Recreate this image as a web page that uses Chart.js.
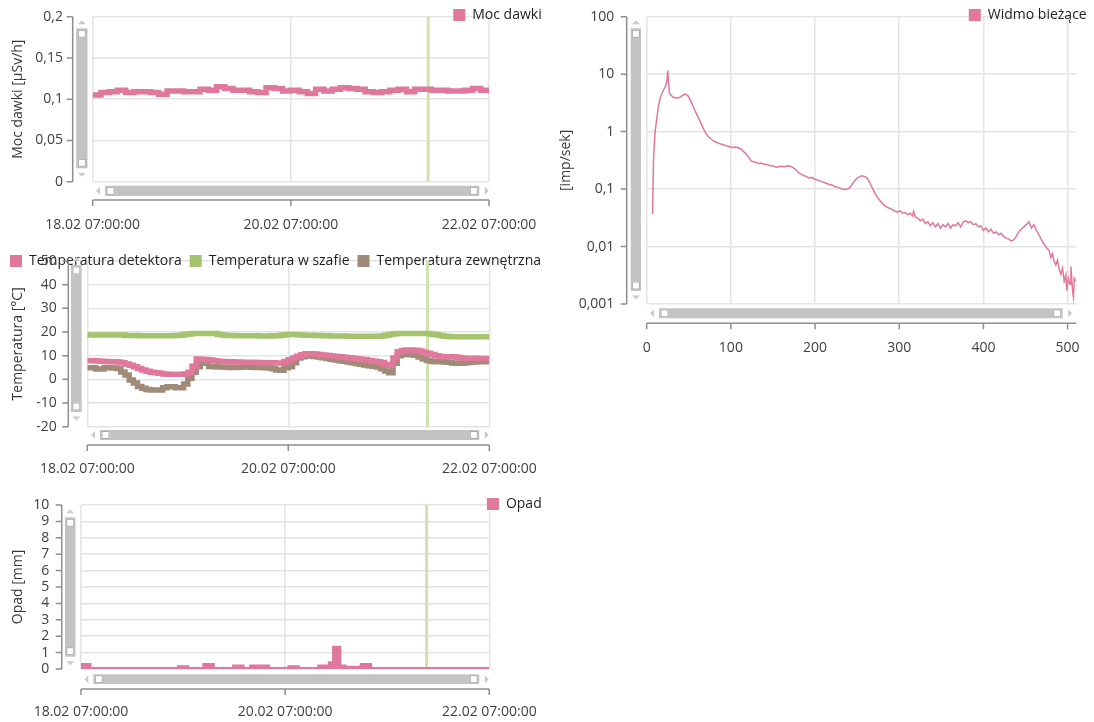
<!DOCTYPE html>
<html lang="pl">
<head>
<meta charset="utf-8">
<title>Monitoring stacji</title>
<script src="https://cdn.jsdelivr.net/npm/chart.js@4.4.1/dist/chart.umd.min.js"></script>
<style>
  html, body { margin: 0; padding: 0; background: #ffffff; }
  #wrap { position: relative; width: 1094px; height: 722px; overflow: hidden; background: #ffffff; }
  #wrap canvas { position: absolute; left: 0; top: 0; }
</style>
</head>
<body>
<div id="wrap">
  <canvas id="cMoc" width="1094" height="722"></canvas>
  <canvas id="cTemp" width="1094" height="722"></canvas>
  <canvas id="cOpad" width="1094" height="722"></canvas>
  <canvas id="cWidmo" width="1094" height="722"></canvas>
</div>
<script>
// ---- time axis (hours since 18.02 07:00) ----
const osCzasuTicks = [0, 48, 96];
const osCzasuEtykiety = ['18.02 07:00:00', '20.02 07:00:00', '22.02 07:00:00'];
const znacznikGodzina = 81.25;

const godziny2h = [0, 2, 4, 6, 8, 10, 12, 14, 16, 18, 20, 22, 24, 26, 28, 30, 32, 34, 36, 38,
  40, 42, 44, 46, 48, 50, 52, 54, 56, 58, 60, 62, 64, 66, 68, 70, 72, 74, 76, 78,
  80, 82, 84, 86, 88, 90, 92, 94, 96];
const godziny1h = [0, 1, 2, 3, 4, 5, 6, 7, 8, 9, 10, 11, 12, 13, 14, 15, 16, 17, 18, 19,
  20, 21, 22, 23, 24, 25, 26, 27, 28, 29, 30, 31, 32, 33, 34, 35, 36, 37, 38, 39,
  40, 41, 42, 43, 44, 45, 46, 47, 48, 49, 50, 51, 52, 53, 54, 55, 56, 57, 58, 59,
  60, 61, 62, 63, 64, 65, 66, 67, 68, 69, 70, 71, 72, 73, 74, 75, 76, 77, 78, 79,
  80, 81, 82, 83, 84, 85, 86, 87, 88, 89, 90, 91, 92, 93, 94, 95, 96];

// ---- dose rate [µSv/h] ----
const mocWartosci = [0.105, 0.108, 0.109, 0.111, 0.108, 0.109, 0.109, 0.108, 0.106, 0.110,
  0.110, 0.109, 0.109, 0.112, 0.111, 0.115, 0.113, 0.111, 0.111, 0.109,
  0.108, 0.114, 0.113, 0.110, 0.111, 0.109, 0.107, 0.112, 0.110, 0.112,
  0.114, 0.113, 0.112, 0.109, 0.108, 0.109, 0.111, 0.112, 0.109, 0.112,
  0.112, 0.111, 0.111, 0.110, 0.110, 0.111, 0.113, 0.111, 0.111];
const mocTicks = [0, 0.05, 0.1, 0.15, 0.2];
const mocEtykiety = ['0', '0,05', '0,1', '0,15', '0,2'];

// ---- temperatures [°C], hourly ----
const tempDetektora = [7.9, 7.9, 7.8, 7.6, 7.5, 7.4, 7.4, 7.3, 7.0, 6.5,
  6.0, 5.3, 4.6, 4.0, 3.4, 3.0, 2.8, 2.6, 2.3, 2.2,
  2.2, 2.2, 2.2, 2.3, 3.0, 5.5, 8.6, 8.5, 8.4, 8.2,
  7.9, 7.6, 7.5, 7.4, 7.4, 7.3, 7.3, 7.2, 7.2, 7.2,
  7.1, 7.1, 7.0, 7.0, 7.0, 6.9, 6.9, 7.5, 8.3, 9.0,
  9.8, 10.4, 10.8, 10.8, 10.7, 10.5, 10.3, 10.1, 9.9, 9.7,
  9.5, 9.3, 9.1, 8.9, 8.7, 8.5, 8.3, 8.0, 7.7, 7.4,
  7.1, 6.3, 6.0, 9.0, 11.7, 12.2, 12.4, 12.4, 12.3, 12.0,
  11.5, 11.0, 10.5, 10.0, 9.7, 9.6, 9.6, 9.5, 9.3, 9.0,
  8.9, 8.9, 8.9, 8.8, 8.8, 8.8, 8.8];
const tempSzafy = [18.7, 18.7, 18.7, 18.7, 18.7, 18.7, 18.7, 18.7, 18.7, 18.5,
  18.5, 18.5, 18.4, 18.4, 18.4, 18.4, 18.4, 18.4, 18.4, 18.4,
  18.4, 18.5, 18.6, 18.9, 19.2, 19.4, 19.4, 19.4, 19.4, 19.4,
  19.4, 19.0, 18.7, 18.5, 18.5, 18.4, 18.4, 18.4, 18.4, 18.4,
  18.4, 18.3, 18.3, 18.3, 18.4, 18.4, 18.6, 18.8, 19.0, 18.9,
  18.8, 18.7, 18.6, 18.6, 18.5, 18.5, 18.4, 18.4, 18.3, 18.3,
  18.3, 18.3, 18.2, 18.2, 18.2, 18.2, 18.2, 18.2, 18.2, 18.2,
  18.3, 18.6, 19.0, 19.3, 19.4, 19.4, 19.4, 19.4, 19.4, 19.4,
  19.4, 19.4, 19.1, 18.8, 18.5, 18.2, 18.1, 18.0, 18.0, 18.0,
  18.0, 18.0, 18.0, 18.0, 18.0, 18.0, 18.1];
const tempZewnetrzna = [4.9, 4.9, 4.4, 4.4, 4.9, 4.9, 4.8, 4.6, 3.1, 1.8,
  -0.3, -1.5, -3.0, -3.8, -4.3, -4.5, -4.5, -4.5, -3.5, -3.1,
  -3.1, -3.5, -3.5, -2.0, 0.5, 3.0, 5.3, 7.4, 6.8, 5.4,
  5.3, 5.2, 5.2, 5.1, 5.0, 5.0, 5.1, 5.2, 5.2, 5.1,
  5.0, 5.0, 4.9, 4.8, 4.5, 4.0, 3.9, 4.9, 5.3, 7.0,
  9.0, 9.6, 9.9, 9.9, 9.7, 9.4, 9.1, 8.8, 8.5, 8.2,
  7.9, 7.6, 7.3, 7.0, 6.7, 6.4, 6.1, 5.8, 5.5, 5.2,
  4.5, 3.5, 2.8, 6.8, 10.0, 10.5, 10.5, 10.4, 10.2, 9.4,
  8.6, 8.0, 7.5, 7.4, 7.4, 7.3, 7.2, 6.9, 6.8, 6.8,
  7.0, 7.2, 7.3, 7.4, 7.4, 7.4, 7.4];
const tempTicks = [-20, -10, 0, 10, 20, 30, 40, 50];
const tempEtykiety = ['-20', '-10', '0', '10', '20', '30', '40', '50'];

// ---- precipitation [mm] ----
const opadGodziny = [0, 2, 23, 25, 29, 31, 36, 38, 40, 44, 49, 51, 56, 58.5, 59.5, 60.75, 62, 66, 68, 96];
const opadWartosci = [0.25, 0, 0.1, 0, 0.25, 0, 0.15, 0, 0.15, 0, 0.1, 0, 0.15, 0.35, 1.3, 0.15, 0.08, 0.25, 0, 0];
const opadTicks = [0, 1, 2, 3, 4, 5, 6, 7, 8, 9, 10];
const opadEtykiety = ['0', '1', '2', '3', '4', '5', '6', '7', '8', '9', '10'];

// ---- current spectrum [imp/sek] per channel ----
const widmoKanaly = [
  7, 8, 9, 10, 12, 14, 16, 18, 20, 22,
  24, 25, 26, 27, 29, 31, 34, 37, 40, 43,
  46, 49, 52, 55, 58, 61, 64, 67, 70, 73,
  76, 79, 82, 85, 88, 91, 94, 97, 100, 103,
  106, 109, 112, 115, 118, 121, 124, 127, 130, 133,
  136, 139, 142, 145, 148, 151, 154, 157, 160, 163,
  166, 169, 172, 175, 178, 181, 184, 187, 190, 193,
  196, 199, 202, 205, 208, 211, 214, 217, 220, 223,
  226, 229, 232, 235, 238, 241, 244, 247, 250, 253,
  256, 259, 262, 265, 268, 271, 274, 277, 280, 283,
  286, 289, 292, 295, 298, 301, 304, 307, 310, 313,
  316, 317, 319, 322, 325, 328, 331, 334, 337, 340,
  343, 346, 349, 352, 355, 358, 361, 364, 367, 370,
  373, 376, 379, 382, 385, 388, 391, 394, 397, 400,
  403, 406, 409, 412, 415, 418, 421, 424, 427, 430,
  433, 436, 439, 442, 445, 448, 451, 454, 457, 460,
  463, 466, 469, 472, 475, 478, 480, 482, 484, 486,
  488, 490, 492, 494, 496, 498, 499, 501, 503, 504,
  506, 507, 508, 510];
const widmoWartosci = [
  0.037, 0.3, 0.6, 1.0, 1.7, 2.8, 3.8, 4.6, 5.3, 6.0,
  7.5, 11.5, 7.0, 4.6, 4.3, 4.0, 3.9, 3.8, 4.0, 4.3,
  4.5, 4.2, 3.5, 2.8, 2.2, 1.8, 1.45, 1.15, 0.95, 0.82,
  0.75, 0.69, 0.66, 0.63, 0.61, 0.59, 0.57, 0.55, 0.54, 0.53,
  0.54, 0.52, 0.50, 0.45, 0.41, 0.36, 0.31, 0.30, 0.29, 0.28,
  0.285, 0.27, 0.27, 0.26, 0.255, 0.25, 0.24, 0.245, 0.25, 0.245,
  0.25, 0.255, 0.245, 0.23, 0.21, 0.19, 0.18, 0.17, 0.165, 0.155,
  0.16, 0.15, 0.145, 0.14, 0.135, 0.13, 0.125, 0.12, 0.118, 0.112,
  0.108, 0.105, 0.1, 0.098, 0.1, 0.105, 0.12, 0.14, 0.155, 0.165,
  0.17, 0.165, 0.155, 0.13, 0.105, 0.085, 0.072, 0.063, 0.056, 0.051,
  0.048, 0.046, 0.044, 0.041, 0.04, 0.042, 0.038, 0.039, 0.036, 0.038,
  0.034, 0.041, 0.033, 0.031, 0.028, 0.03, 0.025, 0.027, 0.023, 0.026,
  0.022, 0.025, 0.021, 0.024, 0.022, 0.025, 0.021, 0.024, 0.023, 0.026,
  0.022, 0.027, 0.028, 0.026, 0.027, 0.024, 0.025, 0.022, 0.023, 0.019,
  0.021, 0.018, 0.02, 0.017, 0.018, 0.016, 0.017, 0.015, 0.014, 0.0135,
  0.0125, 0.013, 0.015, 0.018, 0.02, 0.022, 0.024, 0.027, 0.021, 0.024,
  0.019, 0.016, 0.013, 0.011, 0.0095, 0.0085, 0.0065, 0.0075, 0.0055, 0.0048,
  0.0058, 0.004, 0.0033, 0.0042, 0.0025, 0.0032, 0.0017, 0.0028, 0.0022, 0.0045,
  0.0016, 0.0013, 0.0028, 0.0025];
const widmoTicksX = [0, 100, 200, 300, 400, 500];
const widmoEtykietyX = ['0', '100', '200', '300', '400', '500'];
const widmoTicksY = [0.001, 0.01, 0.1, 1, 10, 100];
const widmoEtykietyY = ['0,001', '0,01', '0,1', '1', '10', '100'];

// ---- styling ----
const RÓŻ = '#e0789b';
const ZIELEŃ = '#a3c36c';
const BRĄZ = '#a08b79';
const ZNACZNIK = '#d0e3ae';
const SIATKA = '#e4e4e4';
const OŚ = '#8e8e8e';
const PASEK = '#c3c3c3';
const STRZAŁKA = '#cbcbcb';
const BEZ = 'rgba(0,0,0,0)';

Chart.defaults.font.family = "'Open Sans', 'Noto Sans', sans-serif";
Chart.defaults.font.size = 14;
Chart.defaults.color = '#404040';

function punkty(xs, ys) { return xs.map((x, i) => ({ x: x, y: ys[i] })); }

function legendLabels(chart) {
  return Chart.defaults.plugins.legend.labels.generateLabels(chart)
    .map(it => Object.assign(it, { lineWidth: 0, fillStyle: it.strokeStyle }));
}

function tri(ctx, pts) {
  ctx.beginPath();
  ctx.moveTo(pts[0][0], pts[0][1]);
  ctx.lineTo(pts[1][0], pts[1][1]);
  ctx.lineTo(pts[2][0], pts[2][1]);
  ctx.closePath();
  ctx.fill();
}

function uchwyt(ctx, x, y, w, h) {
  ctx.fillStyle = '#ffffff';
  ctx.fillRect(x, y, w, h);
  ctx.strokeStyle = '#a9a9a9';
  ctx.lineWidth = 1;
  ctx.strokeRect(x + 0.5, y + 0.5, w - 1, h - 1);
}

// scrollbars beside the plot area
function paskiPrzewijania(ctx, a, s) {
  const vx = a.left + s.vx, vy0 = a.top + s.vTop, vy1 = a.bottom - s.vBottom;
  ctx.fillStyle = PASEK;
  ctx.fillRect(vx, vy0, s.vw, vy1 - vy0);
  uchwyt(ctx, vx + (s.vw - 8) / 2, vy0 + 1.5, 8, 8);
  uchwyt(ctx, vx + (s.vw - 8) / 2, vy1 - 9.5, 8, 8);
  const cx = vx + s.vw / 2;
  ctx.fillStyle = STRZAŁKA;
  tri(ctx, [[cx - 4, vy0 - 4], [cx + 4, vy0 - 4], [cx, vy0 - 8]]);
  tri(ctx, [[cx - 4, vy1 + 4.5], [cx + 4, vy1 + 4.5], [cx, vy1 + 8.5]]);

  const hx0 = a.left + s.hLeft, hx1 = a.right - s.hRight, hy = a.bottom + s.hy;
  ctx.fillStyle = PASEK;
  ctx.fillRect(hx0, hy, hx1 - hx0, s.hh);
  uchwyt(ctx, hx0 + 1.5, hy + (s.hh - 8) / 2, 8, 8);
  uchwyt(ctx, hx1 - 9.5, hy + (s.hh - 8) / 2, 8, 8);
  const cy = hy + s.hh / 2;
  ctx.fillStyle = STRZAŁKA;
  tri(ctx, [[hx0 - 5, cy - 4], [hx0 - 5, cy + 4], [hx0 - 9, cy]]);
  tri(ctx, [[hx1 + 5.5, cy - 4], [hx1 + 5.5, cy + 4], [hx1 + 9.5, cy]]);
}

// legend placement, detached axes, "now" marker and scrollbars
const panelChrome = {
  id: 'panelChrome',
  beforeLayout(chart) {
    const lg = chart.legend;
    if (!lg || lg._bezMiejsca) return;
    const fit = lg.fit;
    lg.fit = function () { fit.call(this); this.height = 0; };
    lg._bezMiejsca = true;
  },
  afterLayout(chart, args, o) {
    const lg = chart.legend;
    if (!lg || !o.legend) return;
    const b = o.legend;
    lg.left = b.left; lg.right = b.right; lg.width = b.right - b.left;
    lg.top = b.top; lg.bottom = b.top + b.height; lg.height = b.height;
  },
  beforeDatasetsDraw(chart, args, o) {
    if (o.marker == null) return;
    const { ctx, chartArea: a } = chart;
    const x = chart.scales.x.getPixelForValue(o.marker);
    ctx.save();
    ctx.strokeStyle = ZNACZNIK;
    ctx.lineWidth = 3;
    ctx.beginPath();
    ctx.moveTo(x, a.top);
    ctx.lineTo(x, a.bottom);
    ctx.stroke();
    ctx.restore();
  },
  afterDraw(chart, args, o) {
    const { ctx, chartArea: a, scales } = chart;
    ctx.save();
    ctx.strokeStyle = OŚ;
    ctx.lineWidth = 1.5;
    ctx.beginPath();
    const ax = a.left - o.gapY;
    ctx.moveTo(ax, a.top);
    ctx.lineTo(ax, a.bottom);
    scales.y.ticks.forEach(t => {
      const p = scales.y.getPixelForValue(t.value);
      ctx.moveTo(ax - 6, p);
      ctx.lineTo(ax, p);
    });
    const ay = a.bottom + o.gapX;
    ctx.moveTo(a.left, ay);
    ctx.lineTo(a.right, ay);
    scales.x.ticks.forEach(t => {
      const p = scales.x.getPixelForValue(t.value);
      ctx.moveTo(p, ay);
      ctx.lineTo(p, ay + 6);
    });
    ctx.stroke();
    paskiPrzewijania(ctx, a, o.scroll);
    ctx.restore();
  }
};

function panel(id, c) {
  const A = c.area;
  return new Chart(document.getElementById(id), {
    type: 'line',
    data: { datasets: c.datasets },
    options: {
      responsive: false,
      animation: false,
      events: [],
      layout: { padding: { left: c.yLeft, top: A.top, right: 1094 - A.right, bottom: 722 - A.bottom - 60 } },
      elements: { point: { radius: 0 }, line: { tension: 0 } },
      scales: {
        x: {
          type: 'linear', min: c.xMin, max: c.xMax,
          afterBuildTicks: s => { s.ticks = c.xTicks.map(v => ({ value: v })); },
          afterFit: s => { s.height = 60; },
          ticks: { callback: (v, i) => c.xLabels[i], padding: c.xPad, maxRotation: 0, autoSkip: false },
          grid: { color: SIATKA, lineWidth: 1.5, drawTicks: true, tickLength: 30, tickColor: BEZ },
          border: { display: false }
        },
        y: {
          type: c.yType || 'linear', min: c.yMin, max: c.yMax,
          afterBuildTicks: s => { s.ticks = c.yTicks.map(v => ({ value: v })); },
          afterFit: s => { s.width = A.left - c.yLeft; },
          ticks: { callback: (v, i) => c.yLabels[i], padding: c.yPad, autoSkip: false },
          grid: { color: SIATKA, lineWidth: 1.5, drawTicks: true, tickLength: 26, tickColor: BEZ },
          border: { display: false },
          title: { display: true, text: c.yTitle, color: '#383838', padding: { top: 9.6, bottom: 0 } }
        }
      },
      plugins: {
        tooltip: { enabled: false },
        legend: {
          position: 'top', align: c.legendAlign,
          labels: { boxWidth: 12, boxHeight: 12, padding: 8, color: '#1e1e1e', generateLabels: legendLabels }
        },
        panelChrome: { legend: c.legendBox, marker: c.marker, gapX: c.gapX, gapY: c.gapY, scroll: c.scroll }
      }
    },
    plugins: [panelChrome]
  });
}

// dose rate
panel('cMoc', {
  area: { left: 92.7, top: 16.7, right: 489, bottom: 181.7 },
  yLeft: 0, yPad: 3.7, xPad: 4.5,
  xMin: 0, xMax: 96, xTicks: osCzasuTicks, xLabels: osCzasuEtykiety,
  yMin: 0, yMax: 0.2, yTicks: mocTicks, yLabels: mocEtykiety,
  yTitle: 'Moc dawki [µSv/h]',
  legendAlign: 'end', legendBox: { left: 300, right: 549.7, top: 0, height: 34 },
  marker: znacznikGodzina, gapX: 18.3, gapY: 20,
  scroll: { vx: -16.5, vw: 11.3, vTop: 11.6, vBottom: 13.4, hy: 4, hh: 10.3, hLeft: 12.3, hRight: 9.7 },
  datasets: [{
    label: 'Moc dawki', data: punkty(godziny2h, mocWartosci), stepped: true,
    borderColor: RÓŻ, backgroundColor: RÓŻ, borderWidth: 5.5
  }]
});

// temperatures
panel('cTemp', {
  area: { left: 87.3, top: 261, right: 489.3, bottom: 426.7 },
  yLeft: 0, yPad: 4.5, xPad: 3.5,
  xMin: 0, xMax: 96, xTicks: osCzasuTicks, xLabels: osCzasuEtykiety,
  yMin: -20, yMax: 50, yTicks: tempTicks, yLabels: tempEtykiety,
  yTitle: 'Temperatura [°C]',
  legendAlign: 'start', legendBox: { left: 2, right: 580, top: 246, height: 34 },
  marker: znacznikGodzina, gapX: 18.3, gapY: 19,
  scroll: { vx: -16.3, vw: 10.7, vTop: 4, vBottom: 14.7, hy: 3.3, hh: 10, hLeft: 12.7, hRight: 10 },
  datasets: [
    { label: 'Temperatura detektora', data: punkty(godziny1h, tempDetektora), stepped: true,
      borderColor: RÓŻ, backgroundColor: RÓŻ, borderWidth: 5.5 },
    { label: 'Temperatura w szafie', data: punkty(godziny1h, tempSzafy), stepped: true,
      borderColor: ZIELEŃ, backgroundColor: ZIELEŃ, borderWidth: 5.5 },
    { label: 'Temperatura zewnętrzna', data: punkty(godziny1h, tempZewnetrzna), stepped: true,
      borderColor: BRĄZ, backgroundColor: BRĄZ, borderWidth: 5.5 }
  ]
});

// precipitation (filled steps)
panel('cOpad', {
  area: { left: 81, top: 505, right: 489.3, bottom: 669 },
  yLeft: 0, yPad: 5.7, xPad: 4.5,
  xMin: 0, xMax: 96, xTicks: osCzasuTicks, xLabels: osCzasuEtykiety,
  yMin: 0, yMax: 10, yTicks: opadTicks, yLabels: opadEtykiety,
  yTitle: 'Opad [mm]',
  legendAlign: 'end', legendBox: { left: 300, right: 549.7, top: 489, height: 34 },
  marker: znacznikGodzina, gapX: 20, gapY: 19.3,
  scroll: { vx: -16, vw: 10.5, vTop: 12.3, vBottom: 12.3, hy: 5.3, hh: 9.7, hLeft: 12.3, hRight: 10 },
  datasets: [{
    label: 'Opad', data: punkty(opadGodziny, opadWartosci), stepped: true, fill: 'origin',
    borderColor: RÓŻ, backgroundColor: RÓŻ, borderWidth: 4
  }]
});

// current spectrum
panel('cWidmo', {
  area: { left: 646.7, top: 16.7, right: 1076, bottom: 304 },
  yLeft: 548, yPad: 6.4, xPad: 6,
  xMin: 0, xMax: 510, xTicks: widmoTicksX, xLabels: widmoEtykietyX,
  yType: 'logarithmic', yMin: 0.001, yMax: 100, yTicks: widmoTicksY, yLabels: widmoEtykietyY,
  yTitle: '[imp/sek]',
  legendAlign: 'end', legendBox: { left: 850, right: 1094.7, top: 0, height: 34 },
  marker: null, gapX: 19.3, gapY: 20,
  scroll: { vx: -16, vw: 10.3, vTop: 11.6, vBottom: 13, hy: 4.3, hh: 10, hLeft: 12.3, hRight: 13.3 },
  datasets: [{
    label: 'Widmo bieżące', data: punkty(widmoKanaly, widmoWartosci),
    borderColor: RÓŻ, backgroundColor: RÓŻ, borderWidth: 1.5
  }]
});
</script>
</body>
</html>
